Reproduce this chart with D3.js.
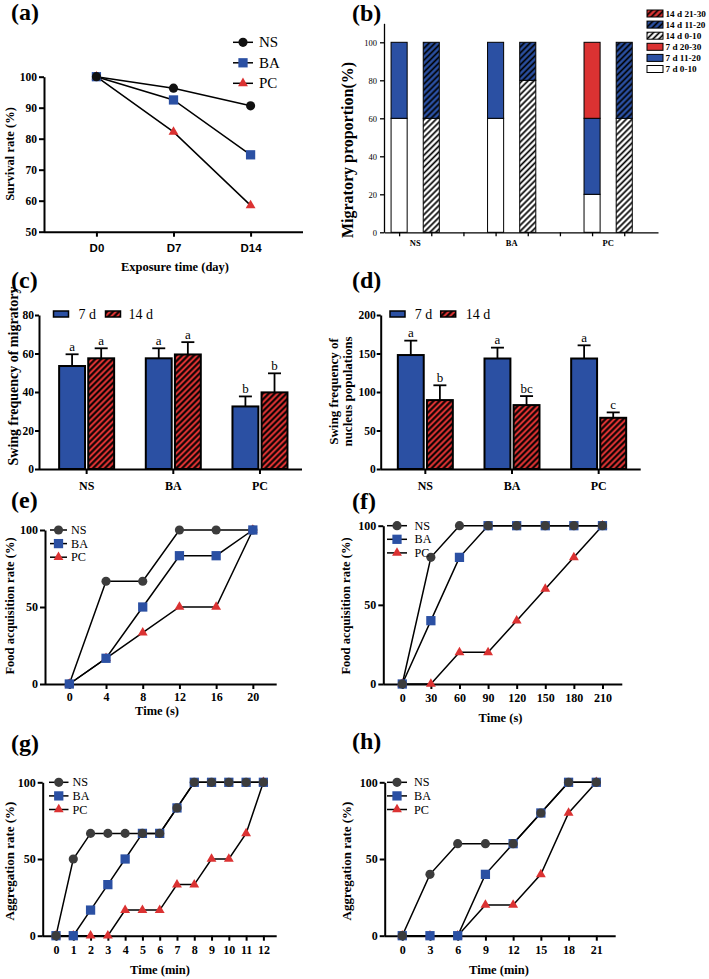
<!DOCTYPE html>
<html><head><meta charset="utf-8">
<script src="https://cdn.jsdelivr.net/npm/d3@7"></script>
<style>body{margin:0;background:#fff;} svg{display:block;}</style>
</head><body>
<svg id="fig" width="709" height="979"></svg>
<script>
// ===== DATA =====
const aDays = ["D0", "D7", "D14"];
const aNS = [100, 96.3, 90.6];
const aBA = [100, 92.5, 74.8];
const aPC = [100, 82.2, 58.5];
const aYTicks = [50, 60, 70, 80, 90, 100];

const bGroups = ["NS", "BA", "PC"];
const b7d_0_10 = [60, 60, 20];
const b7d_11_20 = [40, 40, 40];
const b7d_20_30 = [0, 0, 40];
const b14d_0_10 = [60, 80, 60];
const b14d_11_20 = [40, 20, 40];
const b14d_21_30 = [0, 0, 0];
const bYTicks = [0, 20, 40, 60, 80, 100];
const bLegend = ["14 d 21-30", "14 d 11-20", "14 d 0-10", "7 d 20-30", "7 d 11-20", "7 d 0-10"];

const cGroups = ["NS", "BA", "PC"];
const c7d = [53.5, 57.5, 32.5];
const c7dErr = [6.1, 5.2, 5.2];
const c14d = [57.5, 59.5, 39.8];
const c14dErr = [5.2, 6.4, 9.9];
const c7dLetters = ["a", "a", "b"];
const c14dLetters = ["a", "a", "b"];
const cYTicks = [0, 20, 40, 60, 80];

const d7d = [148, 143.5, 143.5];
const d7dErr = [18.7, 14.1, 17.1];
const d14d = [89.5, 83, 66.5];
const d14dErr = [19.2, 11.7, 7];
const d7dLetters = ["a", "a", "a"];
const d14dLetters = ["b", "bc", "c"];
const dYTicks = [0, 50, 100, 150, 200];

const rateTicks = [0, 50, 100];
const eTime = [0, 4, 8, 12, 16, 20];
const eNS = [0, 66.7, 66.7, 100, 100, 100];
const eBA = [0, 16.7, 50, 83.3, 83.3, 100];
const ePC = [0, 16.7, 33.3, 50, 50, 100];

const fTime = [0, 30, 60, 90, 120, 150, 180, 210];
const fNS = [0, 80, 100, 100, 100, 100, 100, 100];
const fBA = [0, 40, 80, 100, 100, 100, 100, 100];
const fPC = [0, 0, 20, 20, 40, 60, 80, 100];

const gTime = [0, 1, 2, 3, 4, 5, 6, 7, 8, 9, 10, 11, 12];
const gNS = [0, 50, 66.7, 66.7, 66.7, 66.7, 66.7, 83.3, 100, 100, 100, 100, 100];
const gBA = [0, 0, 16.7, 33.3, 50, 66.7, 66.7, 83.3, 100, 100, 100, 100, 100];
const gPC = [0, 0, 0, 0, 16.7, 16.7, 16.7, 33.3, 33.3, 50, 50, 66.7, 100];

const hTime = [0, 3, 6, 9, 12, 15, 18, 21];
const hNS = [0, 40, 60, 60, 60, 80, 100, 100];
const hBA = [0, 0, 0, 40, 60, 80, 100, 100];
const hPC = [0, 0, 0, 20, 20, 40, 80, 100];

// ===== STYLE =====
const SERIF = '"Liberation Serif","Times New Roman",serif';
const SANS = '"Liberation Sans",Arial,sans-serif';
const BLUE = "#2b50a3", RED = "#db3232", DARK = "#3c3c3c";
const svg = d3.select("#fig");
const defs = svg.append("defs");
function hatch(id, bg, size, sw) {
  const p = defs.append("pattern").attr("id", id).attr("patternUnits", "userSpaceOnUse")
    .attr("width", size).attr("height", size).attr("patternTransform", "rotate(45)");
  p.append("rect").attr("width", size).attr("height", size).attr("fill", bg);
  p.append("line").attr("x1", size / 2).attr("x2", size / 2).attr("y1", 0).attr("y2", size)
    .attr("stroke", "#000").attr("stroke-width", sw);
}
hatch("hW", "#fff", 4.2, 1.7);
hatch("hB", BLUE, 4.2, 1.7);
hatch("hR", RED, 4.2, 1.7);
hatch("hR2", RED, 4.2, 2);

function styleAxis(g, o) {
  g.attr("font-family", null).attr("font-size", null);
  g.select(".domain").attr("stroke", "#000").attr("stroke-width", o.sw);
  g.selectAll(".tick line").attr("stroke", "#000").attr("stroke-width", o.sw);
  g.selectAll(".tick text").attr("fill", "#000").attr("font-family", o.ff || SERIF)
    .attr("font-weight", o.fw || "bold").attr("font-size", o.fs || 12);
}
function txt(t, x, y, o = {}) {
  const e = svg.append("text").attr("x", x).attr("y", y).text(t)
    .attr("font-family", o.ff || SERIF).attr("font-size", o.fs || 13)
    .attr("font-weight", o.fw || "normal").attr("text-anchor", o.anchor || "start").attr("fill", "#000");
  if (o.rot) e.attr("transform", `rotate(-90,${x},${y})`);
  return e;
}
function sym(shape) {
  if (shape === "circle") return d3.symbol(d3.symbolCircle, 66)();
  if (shape === "square") return d3.symbol(d3.symbolSquare, 86)();
  return d3.symbol(d3.symbolTriangle, 42)();
}

// panel labels
[["(a)", 11, 20], ["(b)", 352, 20.5], ["(c)", 11, 287.5], ["(d)", 352, 287.5],
 ["(e)", 11, 507.5], ["(f)", 352, 509], ["(g)", 11, 751], ["(h)", 352, 749]]
  .forEach(([t, x, y]) => txt(t, x, y, { fs: 24, fw: "bold" }));

// ===== LINE PANELS =====
function linePanel(p) {
  const g = svg.append("g");
  const x = p.x, y = p.y;
  const y0 = y.range()[0], x0 = p.xAxisStart;
  const xa = g.append("g").attr("transform", `translate(0,${y0})`)
    .call(d3.axisBottom(x).tickValues(p.xTicks).tickSize(5).tickSizeOuter(0).tickPadding(p.xPad));
  xa.select(".domain").attr("d", `M${x0},0.5H${p.xAxisEnd}`);
  styleAxis(xa, { sw: 2, fs: p.xfs || 12, ff: p.xff || SERIF });
  const ya = g.append("g").attr("transform", `translate(${x0},0)`)
    .call(d3.axisLeft(y).tickValues(p.yTicks).tickSize(5).tickSizeOuter(0).tickPadding(2));
  styleAxis(ya, { sw: 2, fs: p.yfs || 12 });
  p.series.forEach(s => {
    g.append("path").datum(s.vals).attr("fill", "none").attr("stroke", "#000").attr("stroke-width", 1.5)
      .attr("d", d3.line().x((d, i) => x(p.xs[i])).y(d => y(d)));
  });
  p.order.forEach(k => {
    const s = p.series[k];
    g.selectAll(null).data(s.vals).join("path")
      .attr("transform", (d, i) => `translate(${x(p.xs[i])},${y(d)})`)
      .attr("d", sym(s.shape)).attr("fill", s.color);
  });
  p.series.forEach((s, i) => {
    const ly = p.leg.y + i * p.leg.dy;
    g.append("line").attr("x1", p.leg.x1).attr("x2", p.leg.x2).attr("y1", ly).attr("y2", ly)
      .attr("stroke", "#000").attr("stroke-width", 1.5);
    g.append("path").attr("transform", `translate(${(p.leg.x1 + p.leg.x2) / 2},${ly})`)
      .attr("d", sym(s.shape)).attr("fill", s.color);
    g.append("text").attr("x", p.leg.tx).attr("y", ly + p.leg.fs * 0.33).attr("font-size", p.leg.fs)
      .attr("font-family", SERIF).text(s.name);
  });
}
const ser = (ns, ba, pc, nsCol) => [
  { name: "NS", vals: ns, shape: "circle", color: nsCol || DARK },
  { name: "BA", vals: ba, shape: "square", color: BLUE },
  { name: "PC", vals: pc, shape: "triangle", color: RED }];

// (a)
linePanel({
  x: d3.scalePoint().domain(aDays).range([44, 303]).padding(0.68),
  y: d3.scaleLinear().domain([50, 100]).range([231.7, 76.7]),
  xs: aDays, xTicks: aDays, yTicks: aYTicks, xPad: 7, xfs: 11.5, xff: SANS, yfs: 11.5,
  xAxisStart: 44, xAxisEnd: 303,
  series: ser(aNS, aBA, aPC, "#111"), order: [2, 1, 0],
  leg: { x1: 233, x2: 253, tx: 259, y: 42.3, dy: 20.5, fs: 15 }
});
txt("Survival rate (%)", 13.5, 154, { fs: 12.5, fw: "bold", anchor: "middle", rot: true });
txt("Exposure time (day)", 175, 271, { fs: 12.5, fw: "bold", anchor: "middle" });

// (e)
linePanel({
  x: d3.scaleLinear().domain([-2.65, 22.6]).range([45, 276.7]),
  y: d3.scaleLinear().domain([0, 100]).range([684, 530]),
  xs: eTime, xTicks: eTime, yTicks: rateTicks, xPad: 3,
  xAxisStart: 45, xAxisEnd: 276.7,
  series: ser(eNS, eBA, ePC), order: [2, 0, 1],
  leg: { x1: 50, x2: 67, tx: 71, y: 530, dy: 13.6, fs: 12.2 }
});
txt("Food acquisition rate (%)", 13.5, 606, { fs: 12.5, fw: "bold", anchor: "middle", rot: true });
txt("Time (s)", 157, 715, { fs: 12.5, fw: "bold", anchor: "middle" });

// (f)
linePanel({
  x: d3.scaleLinear().domain([-19.9, 230.8]).range([383.3, 622.3]),
  y: d3.scaleLinear().domain([0, 100]).range([684, 525.7]),
  xs: fTime, xTicks: fTime, yTicks: rateTicks, xPad: 4,
  xAxisStart: 383.3, xAxisEnd: 622.3,
  series: ser(fNS, fBA, fPC), order: [2, 1, 0],
  leg: { x1: 387, x2: 407, tx: 414.5, y: 525.7, dy: 13.6, fs: 12.2 }
});
txt("Food acquisition rate (%)", 350, 606, { fs: 12.5, fw: "bold", anchor: "middle", rot: true });
txt("Time (s)", 500.5, 722, { fs: 12.5, fw: "bold", anchor: "middle" });

// (g)
linePanel({
  x: d3.scaleLinear().domain([-0.77, 12.77]).range([42.7, 276.7]),
  y: d3.scaleLinear().domain([0, 100]).range([935.7, 782.3]),
  xs: gTime, xTicks: gTime, yTicks: rateTicks, xPad: 5,
  xAxisStart: 42.7, xAxisEnd: 276.7,
  series: ser(gNS, gBA, gPC), order: [2, 1, 0],
  leg: { x1: 49, x2: 68.5, tx: 72.5, y: 782.3, dy: 13.6, fs: 12.2 }
});
txt("Aggregation rate (%)", 13.5, 861, { fs: 13, fw: "bold", anchor: "middle", rot: true });
txt("Time (min)", 160, 974, { fs: 12.5, fw: "bold", anchor: "middle" });

// (h)
linePanel({
  x: d3.scaleLinear().domain([-1.9, 23.1]).range([384.7, 615.7]),
  y: d3.scaleLinear().domain([0, 100]).range([935.7, 782.3]),
  xs: hTime, xTicks: hTime, yTicks: rateTicks, xPad: 5,
  xAxisStart: 384.7, xAxisEnd: 615.7,
  series: ser(hNS, hBA, hPC), order: [2, 1, 0],
  leg: { x1: 387, x2: 407, tx: 414, y: 782.3, dy: 13.6, fs: 12.2 }
});
txt("Aggregation rate (%)", 350.5, 861, { fs: 13, fw: "bold", anchor: "middle", rot: true });
txt("Time (min)", 499, 974, { fs: 12.5, fw: "bold", anchor: "middle" });

// ===== (b) stacked bars =====
(function () {
  const g = svg.append("g");
  const x = d3.scaleLinear().domain([-0.47, 8.05]).range([384, 658]);
  const y = d3.scaleLinear().domain([0, 110]).range([232.3, 23.3]);
  const slots7 = [0, 3, 6], slots14 = [1, 4, 7];
  const rows7 = bGroups.map((k, i) => ({ slot: slots7[i], a: b7d_0_10[i], b: b7d_11_20[i], c: b7d_20_30[i] }));
  const rows14 = bGroups.map((k, i) => ({ slot: slots14[i], a: b14d_0_10[i], b: b14d_11_20[i], c: b14d_21_30[i] }));
  const st = d3.stack().keys(["a", "b", "c"]);
  const bw = x(0.5) - x(0);
  function draw(rows, fills) {
    st(rows).forEach((layer, li) => {
      g.selectAll(null).data(layer.filter(d => d[1] > d[0])).join("rect")
        .attr("x", d => x(d.data.slot) - bw / 2).attr("width", bw)
        .attr("y", d => y(d[1])).attr("height", d => y(d[0]) - y(d[1]))
        .attr("fill", fills[li]).attr("stroke", "#000").attr("stroke-width", 1);
    });
  }
  draw(rows7, ["#fff", BLUE, RED]);
  draw(rows14, ["url(#hW)", "url(#hB)", "url(#hR)"]);
  const xa = g.append("g").attr("transform", `translate(0,${y(0)})`)
    .call(d3.axisBottom(x).tickValues(d3.range(8)).tickSize(4).tickSizeOuter(0).tickFormat(""));
  styleAxis(xa, { sw: 1.3 });
  const ya = g.append("g").attr("transform", `translate(${x.range()[0]},0)`)
    .call(d3.axisLeft(y).tickValues(bYTicks).tickSize(4).tickSizeOuter(0).tickPadding(3));
  styleAxis(ya, { sw: 1.3, fs: 8.5, fw: "normal" });
  bGroups.forEach((k, i) => txt(k, x(slots7[i] + 0.5), 246, { fs: 8.5, fw: "bold", anchor: "middle" }));
  const legFills = ["url(#hR)", "url(#hB)", "url(#hW)", RED, BLUE, "#fff"];
  bLegend.forEach((t, i) => {
    const ly = 13.5 + i * 11.1;
    g.append("rect").attr("x", 647).attr("y", ly - 3.5).attr("width", 16).attr("height", 7)
      .attr("fill", legFills[i]).attr("stroke", "#000").attr("stroke-width", 1);
    txt(t, 665.5, ly + 3.4, { fs: 9.2, fw: "bold" });
  });
  txt("Migratory proportion(%)", 353, 150, { fs: 16, fw: "bold", anchor: "middle", rot: true });
})();

// ===== (c), (d) grouped bars =====
function barPanel(p) {
  const g = svg.append("g");
  const x = d3.scaleBand().domain(cGroups).range(p.band);
  const x1 = d3.scaleBand().domain(["7 d", "14 d"]).range([-27.5, 27.5]).paddingInner(0.11);
  const y = p.y;
  const y0 = y.range()[0];
  const sets = [
    { key: "7 d", vals: p.v7, err: p.e7, let: p.l7, fill: BLUE },
    { key: "14 d", vals: p.v14, err: p.e14, let: p.l14, fill: "url(#hR2)" }];
  sets.forEach(s => {
    s.vals.forEach((v, i) => {
      const cx = x(cGroups[i]) + x.bandwidth() / 2 + x1(s.key);
      const mid = cx + x1.bandwidth() / 2;
      const top = y(v + s.err[i]);
      g.append("line").attr("x1", mid).attr("x2", mid).attr("y1", y(v)).attr("y2", top)
        .attr("stroke", "#000").attr("stroke-width", 1.8);
      g.append("line").attr("x1", mid - 6.5).attr("x2", mid + 6.5).attr("y1", top).attr("y2", top)
        .attr("stroke", "#000").attr("stroke-width", 1.8);
      g.append("rect").attr("x", cx).attr("width", x1.bandwidth()).attr("y", y(v)).attr("height", y0 - y(v))
        .attr("fill", s.fill).attr("stroke", "#000").attr("stroke-width", 2);
      g.append("text").attr("x", mid).attr("y", top - 3.5).attr("text-anchor", "middle")
        .attr("font-family", SERIF).attr("font-size", 13).text(s.let[i]);
    });
  });
  const xa = g.append("g").attr("transform", `translate(0,${y0})`)
    .call(d3.axisBottom(x).tickSize(5).tickSizeOuter(0).tickPadding(7));
  xa.select(".domain").attr("d", `M${p.axX0},0.5H${p.axX1}`);
  styleAxis(xa, { sw: 2, fs: 12 });
  const ya = g.append("g").attr("transform", `translate(${p.axX0},0)`)
    .call(d3.axisLeft(y).tickValues(p.yTicks).tickSize(4).tickSizeOuter(0).tickPadding(1));
  styleAxis(ya, { sw: 2, fs: 11.5 });
  // legend
  const L = p.leg;
  g.append("rect").attr("x", L.x1).attr("y", L.y - 3).attr("width", 15).attr("height", 6)
    .attr("fill", BLUE).attr("stroke", "#000").attr("stroke-width", 1.5);
  txt("7 d", L.t1, L.y + 4.7, { fs: 14 });
  g.append("rect").attr("x", L.x2).attr("y", L.y - 3).attr("width", 15).attr("height", 6)
    .attr("fill", "url(#hR2)").attr("stroke", "#000").attr("stroke-width", 1.5);
  txt("14 d", L.t2, L.y + 4.7, { fs: 14 });
}
barPanel({
  band: [43.3, 303.3], y: d3.scaleLinear().domain([0, 80]).range([469, 315]), yTicks: cYTicks,
  v7: c7d, e7: c7dErr, v14: c14d, e14: c14dErr, l7: c7dLetters, l14: c14dLetters,
  axX0: 39, axX1: 302, leg: { x1: 53.5, t1: 78.5, x2: 105.5, t2: 128.5, y: 314 }
});
txt("Swing frequency of migratory", 17.5, 376, { fs: 14, fw: "bold", anchor: "middle", rot: true });
barPanel({
  band: [382, 642], y: d3.scaleLinear().domain([0, 200]).range([469, 315]), yTicks: dYTicks,
  v7: d7d, e7: d7dErr, v14: d14d, e14: d14dErr, l7: d7dLetters, l14: d14dLetters,
  axX0: 380.7, axX1: 640.7, leg: { x1: 390, t1: 414.7, x2: 440.7, t2: 465.7, y: 314 }
});
txt("Swing frequency of", 338, 391.5, { fs: 13, fw: "bold", anchor: "middle", rot: true });
txt("nucleus populations", 352, 391.5, { fs: 13, fw: "bold", anchor: "middle", rot: true });
</script>
</body></html>
